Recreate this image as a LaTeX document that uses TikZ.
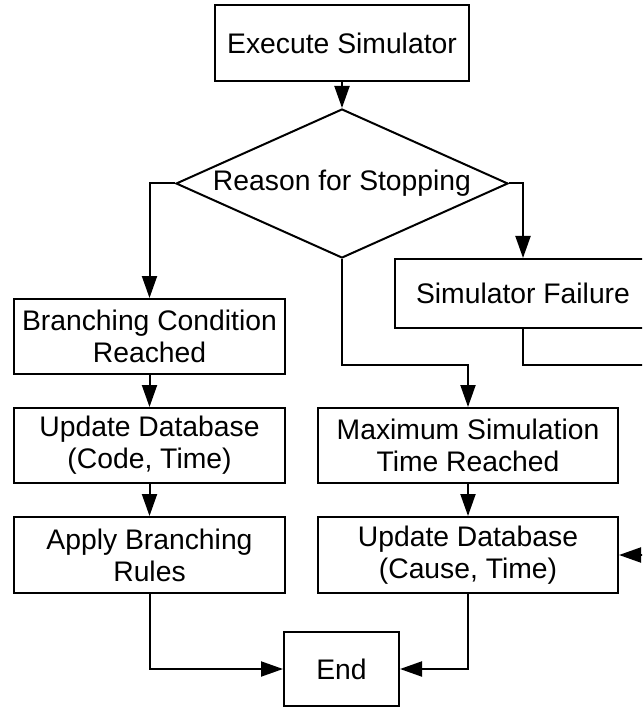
\documentclass[tikz,border=0pt]{standalone}
\usepackage{fontspec}
\setmainfont{Liberation Sans}
\usetikzlibrary{shapes.geometric,arrows.meta}
\begin{document}
\begin{tikzpicture}[x=1pt,y=-1pt,
  box/.style={draw,line width=2pt,inner sep=0pt,align=center,
    font=\fontsize{28.3}{32}\selectfont},
  flow/.style={line width=2pt,-{Triangle[length=22pt,width=15pt]}}]
\useasboundingbox (0,0) rectangle (642,708);
\clip (0,0) rectangle (642,708);

% process steps
\node[box,minimum width=254pt,minimum height=76pt] (exec) at (342,43) {Execute Simulator};
\node[box,diamond,minimum width=332pt,minimum height=149pt,shape aspect=2.23] (dec) at (342,183.5) {Reason for Stopping};

\node[box,minimum width=271pt,minimum height=75pt] (branch) at (149.5,336.5) {Branching Condition\\Reached};
\node[box,minimum width=271pt,minimum height=75pt] (code) at (149.5,445.5) {Update Database\\(Code, Time)};
\node[box,minimum width=271pt,minimum height=76pt] (apply) at (149.5,555) {Apply Branching\\Rules};

\node[box,minimum width=256pt,minimum height=69pt] (fail) at (523,293.5) {Simulator Failure};
\node[box,minimum width=300pt,minimum height=75pt] (maxbox) at (468,445.5) {Maximum Simulation\\Time Reached};
\node[box,minimum width=300pt,minimum height=76pt] (cause) at (468,555) {Update Database\\(Cause, Time)};

\node[box,minimum width=115pt,minimum height=74pt] (end) at (341.5,669) {End};

% helper points for the routed connectors
\coordinate (midrow) at (0,365);
\coordinate (loopR) at (690,365);

% connectors
\draw[flow] (exec) -- (dec);
\draw[flow] (dec.west) -| (branch.north);
\draw[flow] (dec.east) -| (fail.north);
\draw[flow] (dec.south) -- (dec.south |- midrow) -| (maxbox.north);
\draw[flow] (branch) -- (code);
\draw[flow] (code) -- (apply);
\draw[flow] (maxbox) -- (cause);
\draw[flow] (fail.south) |- (loopR) |- (cause.east);
\draw[flow] (apply.south) |- (end.west);
\draw[flow] (cause.south) |- (end.east);
\end{tikzpicture}
\end{document}
